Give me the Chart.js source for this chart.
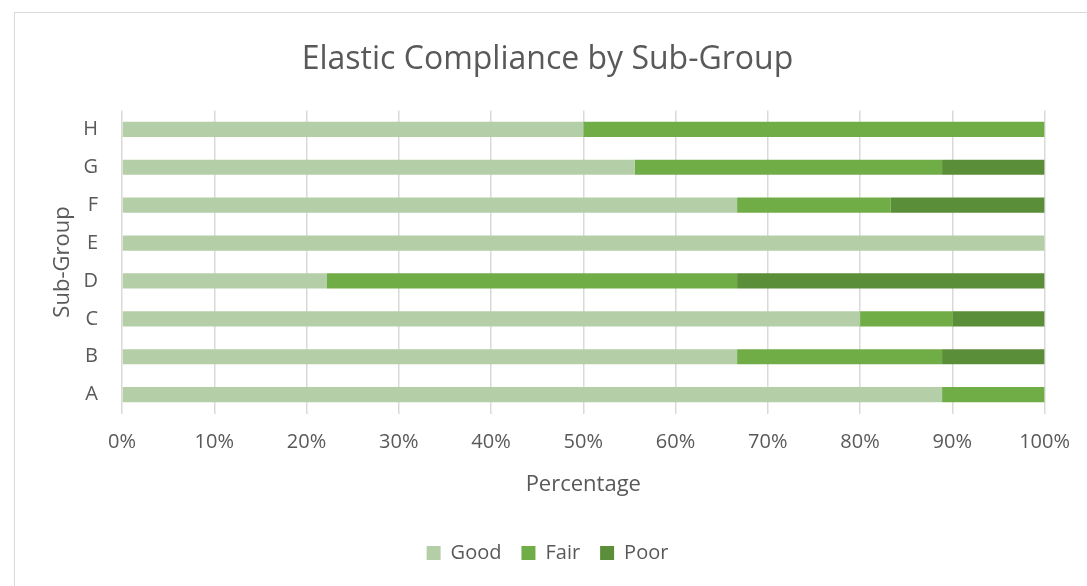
<!DOCTYPE html>
<html>
<head>
<meta charset="utf-8">
<title>Elastic Compliance by Sub-Group</title>
<script src="https://cdn.jsdelivr.net/npm/chart.js@4"></script>
<style>
  body { margin: 0; background: #fff; }
  #wrap { position: relative; width: 1087px; height: 586px; overflow: hidden; }
  #frame { position: absolute; left: 14px; top: 12px; width: 1100px; height: 620px; border: 1px solid #d9d9d9; }
  #wrap canvas { position: absolute; left: 0; top: 0; }
</style>
</head>
<body>
<div id="wrap">
  <div id="frame"></div>
  <canvas id="barChart" width="1087" height="586"></canvas>
</div>
<script>
var groups = ['A', 'B', 'C', 'D', 'E', 'F', 'G', 'H'];
var good = [88.89, 66.67, 80, 22.22, 100, 66.67, 55.56, 50];
var fair = [11.11, 22.22, 10, 44.45, 0, 16.66, 33.33, 50];
var poor = [0, 11.11, 10, 33.33, 0, 16.67, 11.11, 0];
var xTicks = [0, 10, 20, 30, 40, 50, 60, 70, 80, 90, 100];

var textColor = '#595959';
var fontFamily = "'Open Sans', sans-serif";

var ctx = document.getElementById('barChart').getContext('2d');
var barChart = new Chart(ctx, {
    type: 'bar',
    data: {
        labels: groups,
        datasets: [{
            label: 'Good',
            data: good,
            backgroundColor: '#b4cfa8'
        }, {
            label: 'Fair',
            data: fair,
            backgroundColor: '#70ad47'
        }, {
            label: 'Poor',
            data: poor,
            backgroundColor: '#5b8e38'
        }]
    },
    options: {
        indexAxis: 'y',
        responsive: false,
        animation: false,
        datasets: {
            bar: {
                categoryPercentage: 1,
                barPercentage: 0.4,
                borderWidth: 0
            }
        },
        layout: {
            padding: { left: 46, right: 38, top: 18, bottom: 13 }
        },
        plugins: {
            title: {
                display: true,
                text: 'Elastic Compliance by Sub-Group',
                color: textColor,
                font: { family: fontFamily, size: 32, weight: 'normal' },
                padding: { top: 23, bottom: 31 }
            },
            legend: {
                position: 'bottom',
                labels: {
                    color: textColor,
                    font: { family: fontFamily, size: 20 },
                    boxWidth: 14,
                    boxHeight: 14,
                    padding: 20
                }
            },
            tooltip: { enabled: false }
        },
        scales: {
            x: {
                stacked: true,
                min: 0,
                max: 100,
                afterBuildTicks: function (axis) {
                    axis.ticks = xTicks.map(function (v) { return { value: v }; });
                },
                ticks: {
                    color: textColor,
                    font: { family: fontFamily, size: 20 },
                    padding: 17,
                    callback: function (v) { return v + '%'; }
                },
                grid: { color: '#d9d9d9', lineWidth: 1.5, drawTicks: false },
                border: { display: false },
                title: {
                    display: true,
                    text: 'Percentage',
                    color: textColor,
                    font: { family: fontFamily, size: 22 },
                    padding: { top: 0, bottom: 25 }
                }
            },
            y: {
                stacked: true,
                reverse: true,
                afterFit: function (axis) {
                    axis.width = 76;
                },
                ticks: {
                    color: textColor,
                    font: { family: fontFamily, size: 20 },
                    padding: 16
                },
                grid: { display: false },
                border: { display: false },
                title: {
                    display: true,
                    text: 'Sub-Group',
                    color: textColor,
                    font: { family: fontFamily, size: 22 },
                    padding: { top: 4, bottom: 0 }
                }
            }
        }
    }
});
</script>
</body>
</html>
